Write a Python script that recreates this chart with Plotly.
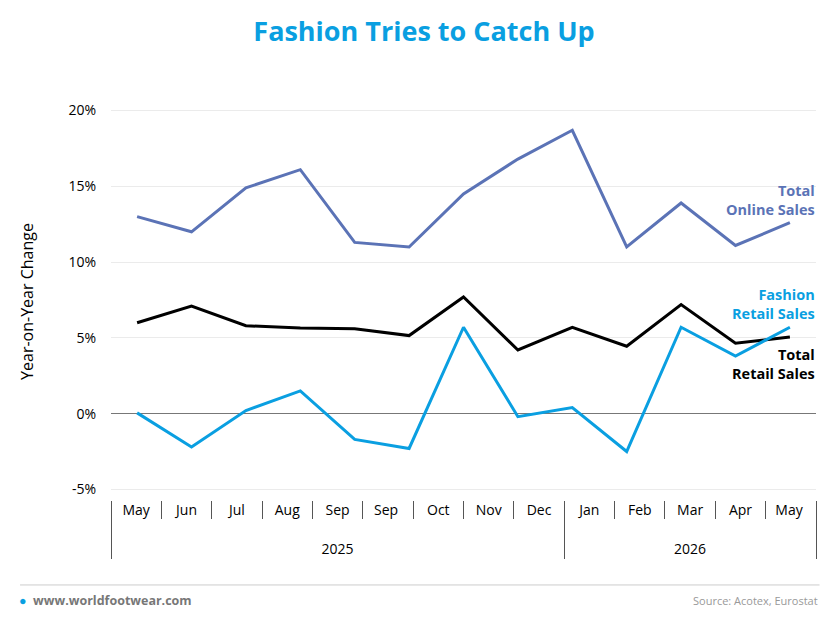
import plotly.graph_objects as go

# axis labels (14 categories, note the doubled "Sep" as in the source)
months = ["May", "Jun", "Jul", "Aug", "Sep", "Sep", "Oct", "Nov", "Dec",
          "Jan", "Feb", "Mar", "Apr", "May"]
years = ["2025"] * 9 + ["2026"] * 5

# 13 observations per series, % year-on-year change
online = [13.0, 12.0, 14.9, 16.1, 11.3, 11.0, 14.5, 16.8, 18.7, 11.0, 13.9, 11.1, 12.6]
total_retail = [6.0, 7.1, 5.8, 5.65, 5.6, 5.15, 7.7, 4.2, 5.7, 4.45, 7.2, 4.65, 5.05]
fashion = [0.05, -2.2, 0.2, 1.5, -1.7, -2.3, 5.7, -0.2, 0.4, -2.5, 5.7, 3.8, 5.7]

BLUE = "#0a9fe1"
SLATE = "#5b73b6"
FONT = "Open Sans"

fig = go.Figure()

# invisible trace that only drives the two-level month / year axis
# (repeated month names get a trailing space so they stay separate categories)
seen = {}
inner = []
for m in months:
    inner.append(m + " " * seen.get(m, 0))
    seen[m] = seen.get(m, 0) + 1
outer = ["<br>" + y for y in years]
fig.add_trace(go.Scatter(x=[outer, inner], y=[None] * len(months), xaxis="x2",
                         showlegend=False, hoverinfo="skip"))

idx = list(range(len(online)))
for vals, col in [(online, SLATE), (total_retail, "#000000"), (fashion, BLUE)]:
    fig.add_trace(go.Scatter(x=idx, y=vals, mode="lines", showlegend=False,
                             line=dict(color=col, width=3)))

# page body adds an 8px offset, so the figure is drawn 8px smaller
fig.update_layout(
    width=832, height=616,
    margin=dict(l=103, r=24, t=95, b=124),
    plot_bgcolor="white", paper_bgcolor="white",
    font=dict(family=FONT, color="#000"),
    title=dict(text="<b>Fashion Tries to Catch Up</b>", x=0.5, xanchor="center",
               y=0.962, yanchor="middle", font=dict(size=27, color=BLUE, family=FONT)),
    xaxis=dict(range=[-0.48, 12.48], visible=False, showgrid=False),
    xaxis2=dict(type="multicategory", overlaying="x", side="bottom", anchor="y",
                range=[-0.5, len(months) - 0.5],
                automargin=False, showgrid=False, showline=False,
                ticks="outside", ticklen=18,
                tickcolor="#555", dividercolor="#555", dividerwidth=1,
                tickfont=dict(size=14, color="#000", family=FONT)),
    yaxis=dict(range=[-5.7, 20.5], tickvals=[-5, 0, 5, 10, 15, 20],
               ticktext=["-5%", "0%", "5%", "10%", "15%", "20%"],
               automargin=False,
               gridcolor="#ebebeb", zeroline=True, zerolinecolor="#777",
               zerolinewidth=1, showline=False, ticks="", ticklabelstandoff=14,
               tickfont=dict(size=14, color="#000"),
               title=dict(text="Year-on-Year Change", font=dict(size=16, color="#000"),
                          standoff=30)),
)

labels = [("<b>Total<br>Online Sales</b>", online[-1] + 1.47, SLATE),
          ("<b>Fashion<br>Retail Sales</b>", fashion[-1] + 1.53, BLUE),
          ("<b>Total<br>Retail Sales</b>", total_retail[-1] - 1.78, "#000")]
for txt, yv, col in labels:
    fig.add_annotation(text=txt, xref="paper", x=1.002, y=yv, yref="y",
                       xanchor="right", yanchor="middle", align="right",
                       showarrow=False, font=dict(size=14.5, color=col, family=FONT))

# footer
fig.add_shape(type="line", xref="paper", yref="paper", x0=-0.129, x1=1.005,
              y0=-0.214, y1=-0.214, line=dict(color="#cccccc", width=1))
fig.add_annotation(text="<span style='color:%s'>●</span>  <b>www.worldfootwear.com</b>" % BLUE,
                   xref="paper", yref="paper", x=-0.134, y=-0.252,
                   xanchor="left", yanchor="middle", showarrow=False,
                   font=dict(size=12.5, color="#777"))
fig.add_annotation(text="Source: Acotex, Eurostat", xref="paper", yref="paper",
                   x=1.005, y=-0.252, xanchor="right", yanchor="middle",
                   showarrow=False, font=dict(size=11, color="#999"))

fig.write_html("out.html")
